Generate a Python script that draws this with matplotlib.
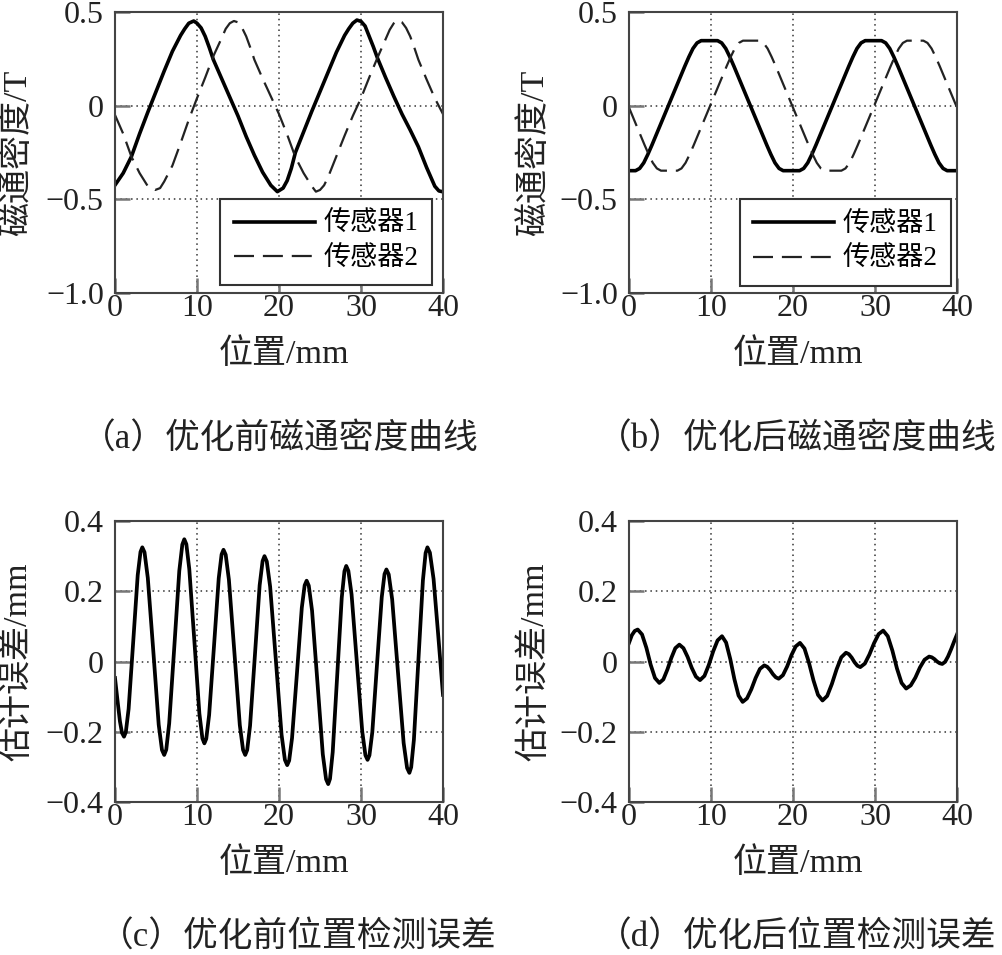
import matplotlib
matplotlib.use('Agg')
import matplotlib.pyplot as plt

plt.rcParams['font.family'] = ['Liberation Serif', 'Noto Sans CJK SC']

# (a) flux density before optimisation
a_s1_x = [0, 1, 2, 3, 4, 5, 6, 7, 8, 8.5, 9, 9.6, 10, 10.5, 11, 11.5, 12, 13, 14, 15, 16, 17, 18, 19,
          19.8, 20.5, 21, 21.5, 22, 23, 24, 25, 26, 27, 28, 28.5, 29, 29.5, 30, 30.5, 31, 31.5, 32,
          33, 34, 35, 36, 37, 38, 38.5, 39, 39.5, 40]
a_s1_y = [-0.424, -0.36, -0.272, -0.15, -0.035, 0.075, 0.185, 0.29, 0.375, 0.41, 0.44, 0.452, 0.44,
          0.415, 0.37, 0.31, 0.245, 0.145, 0.045, -0.055, -0.165, -0.265, -0.355, -0.425,
          -0.459, -0.44, -0.40, -0.335, -0.25, -0.14, -0.03, 0.075, 0.18, 0.285, 0.375, 0.41, 0.44,
          0.457, 0.45, 0.425, 0.37, 0.315, 0.255, 0.15, 0.05, -0.045, -0.13, -0.22, -0.33, -0.38,
          -0.43, -0.455, -0.46]
a_s2_x = [0, 1, 2, 3, 4, 4.9, 5.5, 6, 7, 8, 9, 10, 11, 12, 13, 13.5, 14, 14.5, 15, 15.5, 16, 16.5,
          17, 18, 19, 20, 21, 22, 23, 24, 24.5, 25, 25.5, 26, 27, 28, 29, 30, 31, 32, 33, 33.5, 34,
          34.4, 35, 35.5, 36, 36.5, 37, 38, 39, 40]
a_s2_y = [-0.05, -0.15, -0.272, -0.36, -0.43, -0.45, -0.44, -0.405, -0.32, -0.2, -0.075, 0.04,
          0.15, 0.265, 0.36, 0.41, 0.44, 0.452, 0.445, 0.415, 0.37, 0.31, 0.245, 0.145, 0.05,
          -0.045, -0.155, -0.275, -0.36, -0.43, -0.459, -0.45, -0.425, -0.38, -0.27, -0.16,
          -0.055, 0.04, 0.15, 0.255, 0.355, 0.405, 0.44, 0.457, 0.445, 0.415, 0.37, 0.31, 0.245,
          0.14, 0.04, -0.045]

# (b) flux density after optimisation
b_s1_x = [0, 0.8, 1.3, 1.8, 2.3, 2.8, 3.8, 4.8, 5.8, 6.8, 7.3, 7.8, 8.3, 8.8, 10.8, 11.3, 11.8,
          12.3, 12.8, 13.8, 14.8, 15.8, 16.8, 17.3, 17.8, 18.3, 18.8, 20.8, 21.3, 21.8, 22.3, 22.8,
          23.8, 24.8, 25.8, 26.8, 27.3, 27.8, 28.3, 28.8, 30.8, 31.3, 31.8, 32.3, 32.8, 33.8, 34.8,
          35.8, 36.8, 37.3, 37.8, 38.3, 38.8, 40]
b_s1_y = [-0.347, -0.347, -0.335, -0.305, -0.26, -0.21, -0.105, 0, 0.105, 0.21, 0.26, 0.305,
          0.335, 0.347, 0.347, 0.335, 0.305, 0.26, 0.21, 0.105, 0, -0.105, -0.21, -0.26, -0.305,
          -0.335, -0.347, -0.347, -0.335, -0.305, -0.26, -0.21, -0.105, 0, 0.105, 0.21, 0.26,
          0.305, 0.335, 0.347, 0.347, 0.335, 0.305, 0.26, 0.21, 0.105, 0, -0.105, -0.21, -0.26,
          -0.305, -0.335, -0.347, -0.347]
b_s2_x = [0, 0.9, 1.9, 2.4, 2.9, 3.4, 3.9, 5.9, 6.4, 6.9, 7.4, 7.9, 8.9, 9.9, 10.9, 11.9, 12.4,
          12.9, 13.4, 13.9, 15.9, 16.4, 16.9, 17.4, 17.9, 18.9, 19.9, 20.9, 21.9, 22.4, 22.9, 23.4,
          23.9, 25.9, 26.4, 26.9, 27.4, 27.9, 28.9, 29.9, 30.9, 31.9, 32.4, 32.9, 33.4, 33.9, 35.9,
          36.4, 36.9, 37.4, 37.9, 38.9, 39.9, 40]
b_s2_y = [-0.01, -0.105, -0.21, -0.26, -0.305, -0.335, -0.347, -0.347, -0.335, -0.305, -0.26,
          -0.21, -0.105, 0, 0.105, 0.21, 0.26, 0.305, 0.335, 0.347, 0.347, 0.335, 0.305, 0.26,
          0.21, 0.105, 0, -0.105, -0.21, -0.26, -0.305, -0.335, -0.347, -0.347, -0.335, -0.305,
          -0.26, -0.21, -0.105, 0, 0.105, 0.21, 0.26, 0.305, 0.335, 0.347, 0.347, 0.335, 0.305,
          0.26, 0.21, 0.105, 0, -0.01]

# (c) position error before optimisation
c_x = [0, 0.3, 0.6, 0.85, 1.1,
       1.32, 1.66, 2.22, 2.77, 3.11, 3.33,
       3.6, 4.0, 4.67, 5.33, 5.73, 6.0,
       6.25, 6.61, 7.23, 7.84, 8.21, 8.45,
       8.7, 9.06, 9.68, 10.29, 10.66, 10.9,
       11.13, 11.48, 12.07, 12.65, 13.0, 13.23,
       13.5, 13.89, 14.56, 15.22, 15.62, 15.88,
       16.12, 16.47, 17.06, 17.64, 18.0, 18.23,
       18.51, 18.92, 19.62, 20.31, 20.72, 21.0,
       21.24, 21.59, 22.19, 22.78, 23.13, 23.37,
       23.63, 24.03, 24.69, 25.34, 25.74, 26.0,
       26.22, 26.55, 27.1, 27.65, 27.98, 28.2,
       28.46, 28.85, 29.5, 30.15, 30.54, 30.8,
       31.03, 31.38, 31.95, 32.53, 32.87, 33.1,
       33.38, 33.8, 34.5, 35.2, 35.62, 35.9,
       36.12, 36.45, 37.0, 37.55, 37.88, 38.1,
       38.4, 38.85, 39.4, 40]
c_y = [-0.047, -0.11, -0.17, -0.203, -0.214,
       -0.201, -0.135, 0.056, 0.246, 0.312, 0.325,
       0.311, 0.238, 0.030, -0.180, -0.252, -0.266,
       -0.251, -0.176, 0.041, 0.258, 0.333, 0.348,
       0.334, 0.263, 0.058, -0.148, -0.219, -0.233,
       -0.220, -0.152, 0.043, 0.237, 0.305, 0.318,
       0.304, 0.233, 0.026, -0.181, -0.252, -0.266,
       -0.252, -0.183, 0.017, 0.217, 0.286, 0.300,
       0.285, 0.213, 0.003, -0.208, -0.280, -0.295,
       -0.282, -0.218, -0.033, 0.153, 0.217, 0.230,
       0.216, 0.145, -0.060, -0.264, -0.335, -0.349,
       -0.334, -0.258, -0.039, 0.181, 0.257, 0.272,
       0.258, 0.191, -0.004, -0.199, -0.267, -0.280,
       -0.267, -0.201, -0.009, 0.183, 0.249, 0.262,
       0.248, 0.177, -0.028, -0.232, -0.303, -0.317,
       -0.301, -0.223, 0.004, 0.231, 0.309, 0.325,
       0.31, 0.235, 0.08, -0.095]

# (d) position error after optimisation
d_x = [0, 0.35, 0.7, 1.06,
       1.59, 2.12, 2.64, 3.17, 3.7,
       4.19, 4.68, 5.16, 5.65, 6.14,
       6.64, 7.15, 7.65, 8.16, 8.66,
       9.2, 9.73, 10.27, 10.8, 11.34,
       11.84, 12.35, 12.85, 13.36, 13.86,
       14.39, 14.92, 15.44, 15.97, 16.5,
       16.85, 17.2, 17.55, 17.9, 18.25,
       18.77, 19.29, 19.81, 20.33, 20.85,
       21.4, 21.95, 22.5, 23.05, 23.6,
       24.17, 24.74, 25.32, 25.89, 26.46,
       26.81, 27.16, 27.5, 27.85, 28.2,
       28.76, 29.32, 29.88, 30.44, 31.0,
       31.56, 32.12, 32.68, 33.24, 33.8,
       34.36, 34.92, 35.48, 36.04, 36.6,
       36.92, 37.24, 37.56, 37.88, 38.2,
       38.55, 38.9, 39.3, 39.65, 40]
d_y = [0.053, 0.075, 0.087, 0.091,
       0.077, 0.039, -0.009, -0.047, -0.061,
       -0.051, -0.023, 0.010, 0.038, 0.048,
       0.038, 0.013, -0.018, -0.043, -0.053,
       -0.041, -0.010, 0.029, 0.060, 0.072,
       0.054, 0.007, -0.050, -0.097, -0.115,
       -0.105, -0.079, -0.047, -0.021, -0.011,
       -0.015, -0.024, -0.036, -0.045, -0.049,
       -0.039, -0.014, 0.018, 0.043, 0.053,
       0.037, -0.004, -0.054, -0.095, -0.111,
       -0.098, -0.064, -0.022, 0.012, 0.025,
       0.021, 0.011, -0.002, -0.012, -0.016,
       -0.006, 0.020, 0.052, 0.078, 0.088,
       0.072, 0.031, -0.020, -0.061, -0.077,
       -0.068, -0.046, -0.017, 0.005, 0.014,
       0.012, 0.007, 0.000, -0.005, -0.007,
       -0.001, 0.014, 0.036, 0.057, 0.077]

x_ticks = [0, 10, 20, 30, 40]
x_ticklabels = ['0', '10', '20', '30', '40']
b_ticks = [0.5, 0, -0.5, -1.0]
b_ticklabels = ['0.5', '0', '\u22120.5', '\u22121.0']
e_ticks = [0.4, 0.2, 0, -0.2, -0.4]
e_ticklabels = ['0.4', '0.2', '0', '\u22120.2', '\u22120.4']
legend_labels = ['传感器1', '传感器2']
captions = ['（a）优化前磁通密度曲线', '（b）优化后磁通密度曲线',
            '（c）优化前位置检测误差', '（d）优化后位置检测误差']

W, H = 1003, 955
fig = plt.figure(figsize=(W / 100, H / 100), dpi=100)


def make_axes(left, top):
    # positions given in pixels of the reference picture
    return fig.add_axes([left / W, 1 - (top + 281) / H, 328 / W, 281 / H])


def style(ax, yticks, yticklabels, ylim, ylabel, label_x):
    ax.set_xlim(0, 40)
    ax.set_ylim(*ylim)
    ax.set_xticks(x_ticks)
    ax.set_xticklabels(x_ticklabels)
    ax.set_yticks(yticks)
    ax.set_yticklabels(yticklabels)
    ax.tick_params(direction='in', length=11, width=1.8, color='#777777', labelsize=23,
                   labelcolor='#222222')
    ax.tick_params(axis='y', pad=8)
    ax.tick_params(axis='x', pad=1)
    ax.grid(True, linestyle=(0, (1, 2.5)), color='#333333', linewidth=1.1)
    for s in ax.spines.values():
        s.set_color('#444444')
        s.set_linewidth(1.5)
    ax.set_ylabel(ylabel, fontsize=24.5, color='#222222')
    ax.yaxis.set_label_coords(label_x, 0.5)
    ax.set_xlabel('位置/mm', fontsize=24.5, color='#222222')
    ax.xaxis.set_label_coords(0.515, -0.16)


def flux_panel(ax, x1, y1, x2, y2, label_x, anchor):
    ax.plot(x1, y1, color='black', lw=2.6, label=legend_labels[0])
    ax.plot(x2, y2, color='#222222', lw=1.6, dashes=(9, 4), label=legend_labels[1])
    style(ax, b_ticks, b_ticklabels, (-1.0, 0.5), '磁通密度/T', label_x)
    leg = ax.legend(loc='lower right', bbox_to_anchor=anchor, borderaxespad=0, fontsize=19.5,
                    handlelength=3.0, handletextpad=0.3, labelspacing=0.35, borderpad=0.5,
                    fancybox=False, framealpha=1, edgecolor='#333333')
    leg.get_frame().set_linewidth(1.5)


ax_a = make_axes(115, 12)
flux_panel(ax_a, a_s1_x, a_s1_y, a_s2_x, a_s2_y, -0.25, (0.966, 0.028))

ax_b = make_axes(629, 12)
flux_panel(ax_b, b_s1_x, b_s1_y, b_s2_x, b_s2_y, -0.24, (0.982, 0.025))

ax_c = make_axes(115, 521)
ax_c.plot(c_x, c_y, color='black', lw=2.7)
style(ax_c, e_ticks, e_ticklabels, (-0.4, 0.4), '估计误差/mm', -0.25)

ax_d = make_axes(629, 521)
ax_d.plot(d_x, d_y, color='black', lw=2.7)
style(ax_d, e_ticks, e_ticklabels, (-0.4, 0.4), '估计误差/mm', -0.24)

# left captions centred, right ones pushed against the right edge like the reference
cap_pos = [(280, 440, 'center'), (997, 440, 'right'), (298, 938, 'center'), (997, 938, 'right')]
for (cx, cy, ha), text in zip(cap_pos, captions):
    fig.text(cx / W, 1 - cy / H, text, ha=ha, va='center', fontsize=25, color='#222222')

fig.savefig('out.png', dpi=100)
plt.close(fig)
